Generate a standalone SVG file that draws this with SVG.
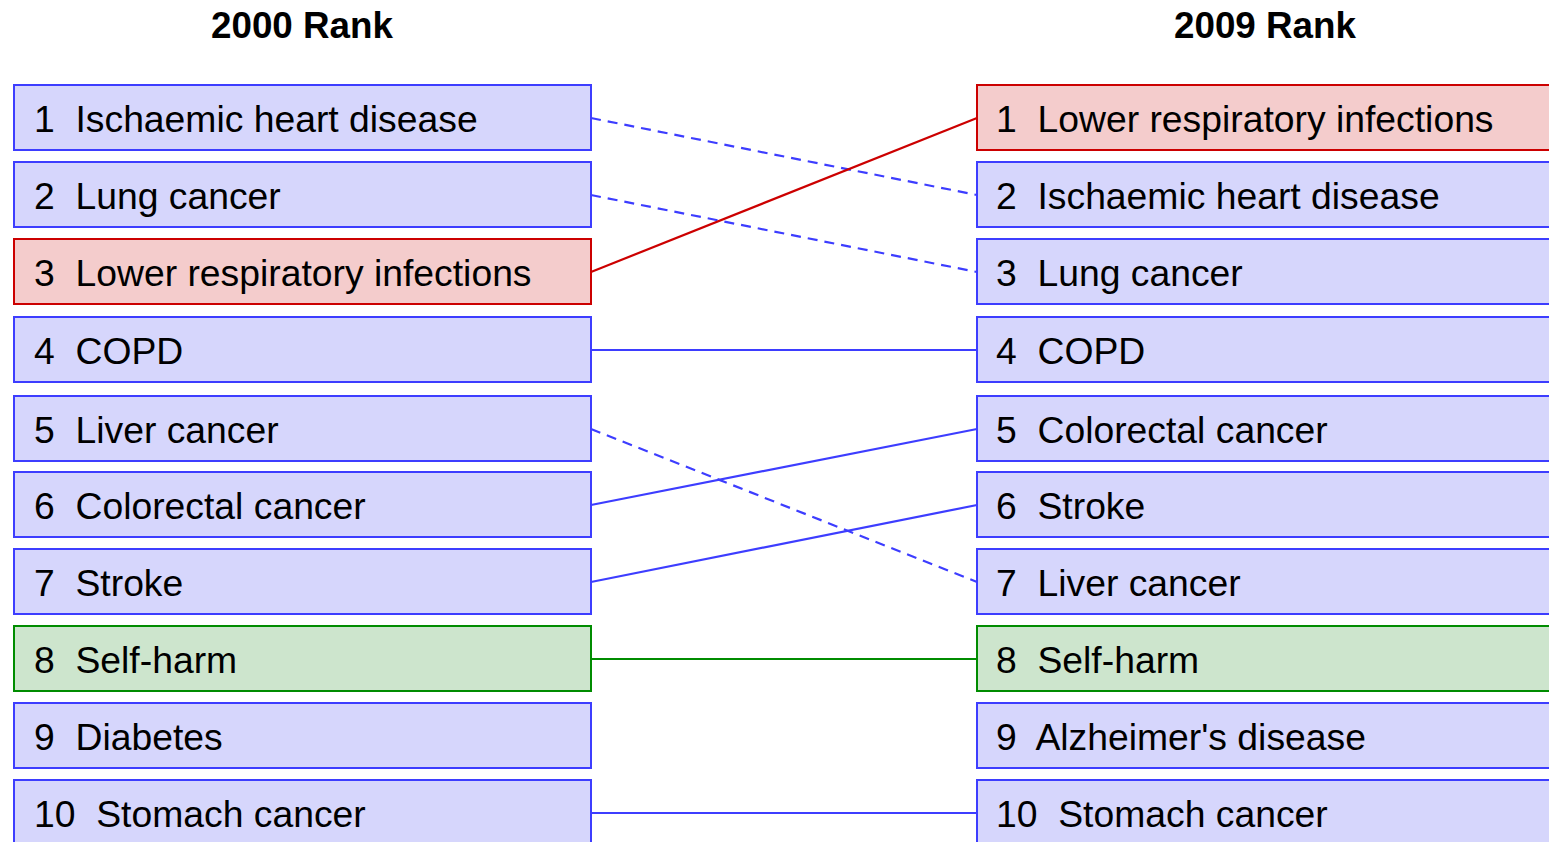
<svg xmlns="http://www.w3.org/2000/svg" width="1549" height="842" viewBox="0 0 1549 842">
<style>
.t{font-family:"Liberation Sans",Arial,sans-serif;font-size:37.3px;fill:#000;white-space:pre}
.h{font-family:"Liberation Sans",Arial,sans-serif;font-size:36.8px;font-weight:bold;fill:#000;text-anchor:middle}
.b{fill:#d6d6fc;stroke:#3d3dff;stroke-width:2}
.r{fill:#f4cccc;stroke:#cc0000;stroke-width:2}
.g{fill:#cde5cd;stroke:#008c00;stroke-width:2}
.lb{stroke:#3d3dff;stroke-width:2.2;fill:none}
.ld{stroke:#3d3dff;stroke-width:2.2;fill:none;stroke-dasharray:10,7}
.lr{stroke:#cc0000;stroke-width:2.2;fill:none}
.lg{stroke:#008c00;stroke-width:2.2;fill:none}
</style>
<rect width="1549" height="842" fill="#fff"/>
<text class="h" x="302" y="38">2000 Rank</text>
<text class="h" x="1265" y="38">2009 Rank</text>
<g id="connectors">
<line class="ld" x1="591" y1="118" x2="977" y2="195"/>
<line class="ld" x1="591" y1="195" x2="977" y2="272"/>
<line class="lr" x1="591" y1="272" x2="977" y2="118"/>
<line class="lb" x1="591" y1="350" x2="977" y2="350"/>
<line class="ld" x1="591" y1="429" x2="977" y2="582"/>
<line class="lb" x1="591" y1="505" x2="977" y2="429"/>
<line class="lb" x1="591" y1="582" x2="977" y2="505"/>
<line class="lg" x1="591" y1="659" x2="977" y2="659"/>
<line class="lb" x1="591" y1="813" x2="977" y2="813"/>
</g>
<g id="l1"><rect class="b" x="14" y="85" width="577" height="65"/><text class="t" x="34" y="132">1  Ischaemic heart disease</text></g>
<g id="l2"><rect class="b" x="14" y="162" width="577" height="65"/><text class="t" x="34" y="209">2  Lung cancer</text></g>
<g id="l3"><rect class="r" x="14" y="239" width="577" height="65"/><text class="t" x="34" y="286">3  Lower respiratory infections</text></g>
<g id="l4"><rect class="b" x="14" y="317" width="577" height="65"/><text class="t" x="34" y="364">4  COPD</text></g>
<g id="l5"><rect class="b" x="14" y="396" width="577" height="65"/><text class="t" x="34" y="443">5  Liver cancer</text></g>
<g id="l6"><rect class="b" x="14" y="472" width="577" height="65"/><text class="t" x="34" y="519">6  Colorectal cancer</text></g>
<g id="l7"><rect class="b" x="14" y="549" width="577" height="65"/><text class="t" x="34" y="596">7  Stroke</text></g>
<g id="l8"><rect class="g" x="14" y="626" width="577" height="65"/><text class="t" x="34" y="673">8  Self-harm</text></g>
<g id="l9"><rect class="b" x="14" y="703" width="577" height="65"/><text class="t" x="34" y="750">9  Diabetes</text></g>
<g id="l10"><rect class="b" x="14" y="780" width="577" height="70"/><text class="t" x="34" y="827">10  Stomach cancer</text></g>
<g id="r1"><rect class="r" x="977" y="85" width="600" height="65"/><text class="t" x="996" y="132">1  Lower respiratory infections</text></g>
<g id="r2"><rect class="b" x="977" y="162" width="600" height="65"/><text class="t" x="996" y="209">2  Ischaemic heart disease</text></g>
<g id="r3"><rect class="b" x="977" y="239" width="600" height="65"/><text class="t" x="996" y="286">3  Lung cancer</text></g>
<g id="r4"><rect class="b" x="977" y="317" width="600" height="65"/><text class="t" x="996" y="364">4  COPD</text></g>
<g id="r5"><rect class="b" x="977" y="396" width="600" height="65"/><text class="t" x="996" y="443">5  Colorectal cancer</text></g>
<g id="r6"><rect class="b" x="977" y="472" width="600" height="65"/><text class="t" x="996" y="519">6  Stroke</text></g>
<g id="r7"><rect class="b" x="977" y="549" width="600" height="65"/><text class="t" x="996" y="596">7  Liver cancer</text></g>
<g id="r8"><rect class="g" x="977" y="626" width="600" height="65"/><text class="t" x="996" y="673">8  Self-harm</text></g>
<g id="r9"><rect class="b" x="977" y="703" width="600" height="65"/><text class="t" x="996" y="750">9  Alzheimer's disease</text></g>
<g id="r10"><rect class="b" x="977" y="780" width="600" height="70"/><text class="t" x="996" y="827">10  Stomach cancer</text></g>
</svg>
